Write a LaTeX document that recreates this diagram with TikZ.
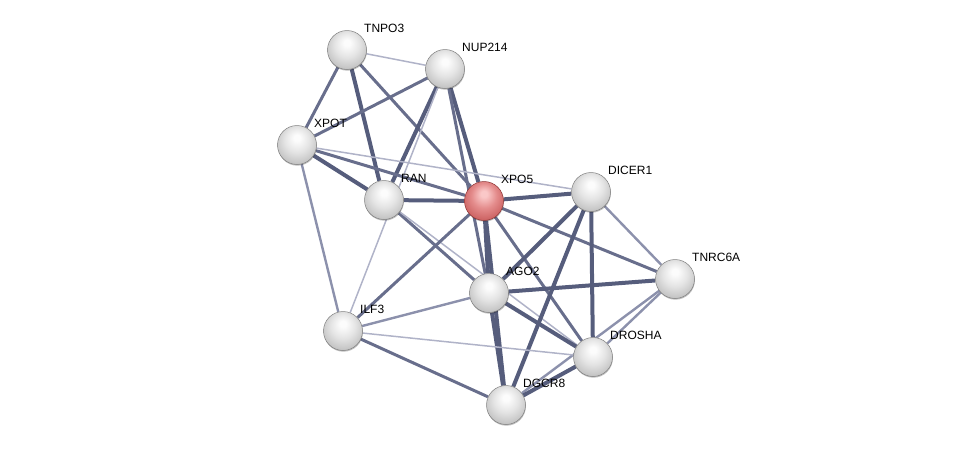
\documentclass[tikz,border=0pt]{standalone}
\usepackage{fontspec}
\newfontfamily\lblfont{Liberation Sans}
\usetikzlibrary{calc,shadows}
\definecolor{edgeS}{RGB}{86,93,124}
\definecolor{edgeM}{RGB}{104,110,140}
\definecolor{edgeW}{RGB}{140,145,172}
\definecolor{edgeF}{RGB}{176,179,200}
\definecolor{gb0}{RGB}{252,252,252}
\definecolor{gb1}{RGB}{228,228,228}
\definecolor{gb2}{RGB}{196,196,196}
\definecolor{gb3}{RGB}{135,135,135}
\definecolor{rb0}{RGB}{250,200,200}
\definecolor{rb1}{RGB}{228,140,140}
\definecolor{rb2}{RGB}{205,100,100}
\definecolor{rb3}{RGB}{140,50,50}
\pgfdeclareradialshading{greyball}{\pgfpoint{0bp}{10bp}}{color(0bp)=(gb0); color(4bp)=(gb0); color(16bp)=(gb1); color(28bp)=(gb2); color(34bp)=(gb3); color(50bp)=(gb3)}
\pgfdeclareradialshading{redball}{\pgfpoint{0bp}{10bp}}{color(0bp)=(rb0); color(4bp)=(rb0); color(16bp)=(rb1); color(28bp)=(rb2); color(34bp)=(rb3); color(50bp)=(rb3)}
\pgfdeclarelayer{bg}
\pgfsetlayers{bg,main}
\begin{document}
\begin{tikzpicture}[x=1pt,y=-1pt,
  prot/.style={circle,minimum size=39pt,inner sep=0pt,draw=black!50,line width=0.5pt,shading=greyball,
    drop shadow={shadow xshift=0.4pt,shadow yshift=-1.2pt,opacity=0.25,fill=black}},
  protred/.style={prot,shading=redball,draw=rb3},
  lbl/.style={anchor=west,inner sep=0pt,font=\lblfont\fontsize{12}{14}\selectfont,text=black},
  estrong/.style={draw=edgeS,line width=4pt},
  emed/.style={draw=edgeM,line width=3pt},
  eweak/.style={draw=edgeW,line width=2.4pt},
  efaint/.style={draw=edgeF,line width=1.5pt}]
\useasboundingbox (0,0) rectangle (976,450);

\node[prot] (TNPO3) at (347,50) {};
\node[prot] (NUP214) at (445,69) {};
\node[prot] (XPOT) at (297,145) {};
\node[prot] (RAN) at (384,200) {};
\node[protred] (XPO5) at (484,201) {};
\node[prot] (DICER1) at (591,192) {};
\node[prot] (TNRC6A) at (675,279) {};
\node[prot] (AGO2) at (489,293) {};
\node[prot] (ILF3) at (343,331) {};
\node[prot] (DROSHA) at (593,357) {};
\node[prot] (DGCR8) at (506,405) {};

\foreach \n in {TNPO3,NUP214,XPOT,RAN,XPO5,DICER1,TNRC6A,AGO2,ILF3,DROSHA,DGCR8}{
  \node[lbl] (l\n) at ($(\n)+(17,-22)$) {\n};
}

\begin{pgfonlayer}{bg}
\draw[efaint] (TNPO3) -- (NUP214);
\draw[emed] (TNPO3) -- (XPOT);
\draw[estrong] (TNPO3) -- (RAN);
\draw[emed] (TNPO3) -- (XPO5);
\draw[emed] (NUP214) -- (XPOT);
\draw[estrong] (NUP214) -- (RAN);
\draw[efaint] (NUP214) -- (ILF3);
\draw[estrong] (NUP214) -- (XPO5);
\draw[emed] (NUP214) -- (AGO2);
\draw[estrong] (XPOT) -- (RAN);
\draw[emed] (XPOT) -- (XPO5);
\draw[efaint] (XPOT) -- (DICER1);
\draw[eweak] (XPOT) -- (ILF3);
\draw[estrong] (RAN) -- (XPO5);
\draw[emed] (RAN) -- (AGO2);
\draw[efaint] (RAN) -- (DROSHA);
\draw[estrong] (XPO5) -- (DICER1);
\draw[estrong] (XPO5) -- (AGO2);
\draw[estrong] (XPO5) -- (DGCR8);
\draw[emed] (XPO5) -- (ILF3);
\draw[emed] (XPO5) -- (TNRC6A);
\draw[emed] (XPO5) -- (DROSHA);
\draw[estrong] (DICER1) -- (AGO2);
\draw[estrong] (DICER1) -- (DGCR8);
\draw[estrong] (DICER1) -- (DROSHA);
\draw[eweak] (DICER1) -- (TNRC6A);
\draw[estrong] (AGO2) -- (TNRC6A);
\draw[estrong] (AGO2) -- (DROSHA);
\draw[estrong] (AGO2) -- (DGCR8);
\draw[eweak] (AGO2) -- (ILF3);
\draw[eweak] (TNRC6A) -- (DROSHA);
\draw[eweak] (TNRC6A) -- (DGCR8);
\draw[estrong] (DROSHA) -- (DGCR8);
\draw[efaint] (ILF3) -- (DROSHA);
\draw[emed] (ILF3) -- (DGCR8);
\end{pgfonlayer}
\end{tikzpicture}
\end{document}
